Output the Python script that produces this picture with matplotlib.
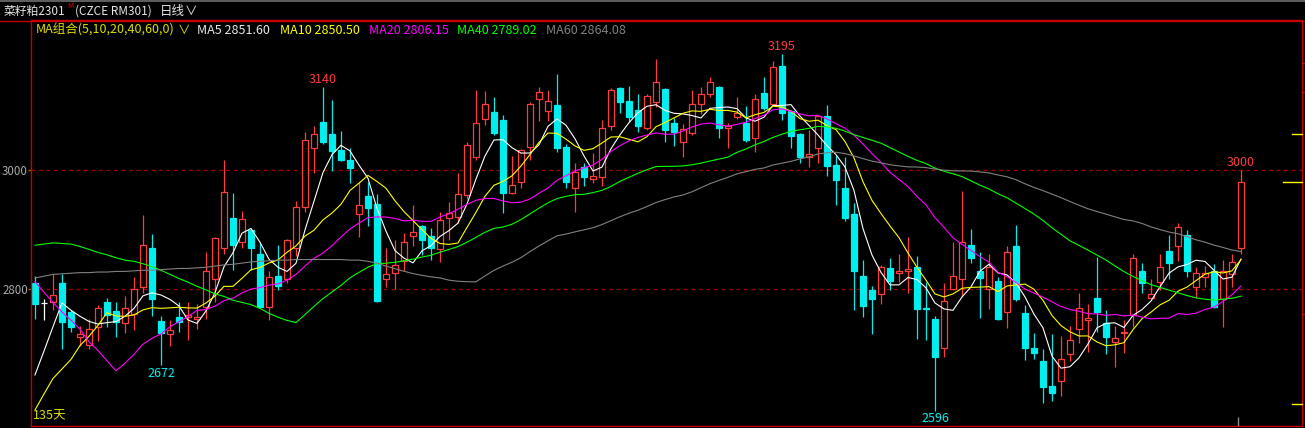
import matplotlib
matplotlib.use("Agg")
import matplotlib.pyplot as plt
from matplotlib.lines import Line2D
import numpy as np

plt.rcParams["font.family"] = ["Noto Sans CJK SC", "DejaVu Sans"]

W, H = 1305, 428

# daily bars of RM301 (135 sessions)
opens = [2810, 2777, 2779, 2810, 2761, 2719, 2706, 2736, 2778, 2763,
         2743, 2758, 2803, 2869, 2746, 2724, 2753, 2753, 2750, 2770,
         2817, 2869, 2920, 2880, 2900, 2859, 2770, 2822, 2818, 2869,
         2939, 3037, 3081, 3061, 3034, 3017, 2926, 2957, 2943, 2817,
         2827, 2848, 2890, 2906, 2890, 2868, 2919, 2922, 2958, 3022,
         3086, 3098, 3085, 2962, 2980, 3039, 3119, 3099, 3110, 3039,
         2970, 3005, 2985, 2989, 3075, 3138, 3116, 3101, 3071, 3115,
         3137, 3079, 3048, 3063, 3111, 3129, 3140, 3071, 3089, 3080,
         3055, 3130, 3111, 3175, 3100, 3061, 3023, 3037, 3091, 3009,
         2970, 2927, 2822, 2799, 2792, 2835, 2828, 2830, 2837, 2769,
         2750, 2701, 2800, 2817, 2874, 2831, 2800, 2814, 2762, 2873,
         2760, 2702, 2680, 2637, 2646, 2692, 2734, 2748, 2785, 2743,
         2712, 2727, 2756, 2831, 2785, 2812, 2864, 2872, 2891, 2804,
         2820, 2830, 2783, 2825, 2869]
highs = [2822, 2783, 2825, 2826, 2765, 2738, 2750, 2774, 2785, 2779,
         2788, 2820, 2925, 2893, 2755, 2748, 2778, 2778, 2775, 2862,
         2888, 3018, 2962, 2932, 2903, 2878, 2831, 2874, 2885, 2949,
         3065, 3074, 3140, 3118, 3066, 3037, 2981, 2981, 2960, 2869,
         2883, 2894, 2942, 2908, 2903, 2930, 2947, 2995, 3048, 3135,
         3133, 3123, 3093, 3024, 3036, 3115, 3140, 3135, 3162, 3045,
         3012, 3012, 3029, 3085, 3138, 3140, 3142, 3128, 3129, 3187,
         3139, 3088, 3078, 3135, 3140, 3156, 3141, 3079, 3123, 3108,
         3129, 3156, 3184, 3195, 3102, 3062, 3067, 3093, 3110, 3026,
         3022, 2945, 2849, 2806, 2840, 2852, 2860, 2888, 2856, 2813,
         2755, 2811, 2880, 2966, 2901, 2863, 2859, 2820, 2873, 2908,
         2774, 2726, 2699, 2724, 2722, 2738, 2793, 2775, 2854, 2766,
         2738, 2748, 2859, 2844, 2817, 2859, 2891, 2912, 2900, 2838,
         2839, 2843, 2850, 2859, 3000]
lows = [2750, 2748, 2765, 2700, 2729, 2704, 2700, 2713, 2736, 2719,
        2726, 2731, 2793, 2755, 2672, 2704, 2728, 2715, 2734, 2750,
        2779, 2860, 2832, 2870, 2832, 2768, 2749, 2798, 2811, 2856,
        2930, 2995, 3044, 2999, 3015, 2979, 2888, 2906, 2778, 2804,
        2800, 2831, 2873, 2858, 2849, 2846, 2883, 2911, 2952, 3017,
        3076, 3060, 2928, 2960, 2971, 3017, 3083, 3083, 3031, 2970,
        2930, 2973, 2979, 2974, 3067, 3097, 3082, 3065, 3068, 3107,
        3048, 3041, 3023, 3060, 3095, 3124, 3055, 3038, 3087, 3048,
        3031, 3101, 3109, 3085, 3038, 3013, 3006, 3012, 2990, 2942,
        2915, 2765, 2753, 2724, 2775, 2799, 2813, 2794, 2717, 2715,
        2596, 2686, 2798, 2788, 2845, 2752, 2767, 2748, 2735, 2780,
        2681, 2682, 2609, 2613, 2620, 2680, 2710, 2695, 2728, 2691,
        2669, 2693, 2736, 2794, 2784, 2799, 2817, 2848, 2820, 2785,
        2803, 2768, 2737, 2804, 2860]
closes = [2775, 2777, 2790, 2745, 2737, 2724, 2734, 2768, 2757, 2745,
          2769, 2800, 2874, 2783, 2726, 2732, 2745, 2756, 2754, 2830,
          2886, 2963, 2874, 2918, 2870, 2771, 2820, 2806, 2883, 2938,
          3051, 3061, 3048, 3033, 3017, 3004, 2942, 2937, 2781, 2825,
          2840, 2879, 2897, 2882, 2869, 2917, 2928, 2960, 3042, 3079,
          3111, 3063, 2962, 2975, 3034, 3111, 3132, 3117, 3038, 2981,
          2997, 2988, 2990, 3071, 3135, 3114, 3090, 3074, 3125, 3148,
          3067, 3065, 3069, 3111, 3128, 3148, 3071, 3074, 3097, 3051,
          3119, 3105, 3173, 3097, 3058, 3023, 3027, 3092, 3007, 2983,
          2919, 2830, 2772, 2784, 2837, 2814, 2830, 2834, 2767, 2767,
          2687, 2780, 2822, 2879, 2852, 2819, 2838, 2750, 2862, 2784,
          2702, 2693, 2635, 2625, 2682, 2714, 2768, 2751, 2761, 2720,
          2718, 2729, 2852, 2810, 2792, 2837, 2844, 2905, 2830, 2828,
          2827, 2770, 2831, 2846, 2980]

# moving averages as drawn on the chart
ma5 = [2656, 2696, 2737, 2777, 2764.8, 2754.6, 2746, 2741.6, 2744, 2745.6,
       2754.6, 2767.8, 2789, 2794.2, 2790.4, 2783, 2772, 2748.4, 2742.6, 2763.4,
       2794.2, 2837.8, 2861.4, 2894.2, 2902.2, 2879.2, 2850.6, 2837, 2830, 2843.6,
       2899.6, 2947.8, 2996.2, 3026.2, 3042, 3032.6, 3008.8, 2986.6, 2936.2, 2897.8,
       2865, 2852.4, 2844.4, 2864.6, 2873.4, 2888.8, 2898.6, 2911.2, 2943.2, 2985.2,
       3024, 3051, 3051.4, 3038, 3029, 3029, 3042.8, 3073.8, 3086.4, 3075.8,
       3053, 3024.2, 2998.8, 3005.4, 3036.2, 3059.6, 3080, 3096.8, 3107.6, 3110.2,
       3100.8, 3095.8, 3094.8, 3092, 3088, 3104.2, 3105.4, 3106.4, 3103.6, 3088.2,
       3082.4, 3089.2, 3109, 3109, 3110.4, 3091.2, 3075.6, 3059.4, 3041.4, 3026.4,
       3005.6, 2966.2, 2902.2, 2857.6, 2828.4, 2807.4, 2807.4, 2819.8, 2816.4, 2802.4,
       2777, 2767, 2764.6, 2787, 2804, 2830.4, 2842, 2827.6, 2824.2, 2810.6,
       2787.2, 2758.2, 2735.2, 2687.8, 2667.4, 2669.8, 2684.8, 2708, 2735.2, 2742.8,
       2743.6, 2735.8, 2756, 2765.8, 2780.2, 2804, 2827, 2837.6, 2841.6, 2848.8,
       2846.8, 2832, 2817.2, 2820.4, 2850.8]
ma10 = [2597, 2624, 2650, 2666, 2682, 2705.3, 2721, 2739.3, 2760.5, 2755.2,
        2754.6, 2756.9, 2765.3, 2769.1, 2768, 2768.8, 2769.9, 2768.7, 2768.4, 2776.9,
        2788.6, 2804.9, 2804.9, 2818.4, 2832.8, 2836.7, 2844.2, 2849.2, 2862.1, 2872.9,
        2889.4, 2899.2, 2916.6, 2928.1, 2942.8, 2966.1, 2978.3, 2991.4, 2981.2, 2969.9,
        2948.8, 2930.6, 2915.5, 2900.4, 2885.6, 2876.9, 2875.5, 2877.8, 2903.9, 2929.3,
        2956.4, 2974.8, 2981.3, 2990.6, 3007.1, 3026.5, 3046.9, 3062.6, 3062.2, 3052.4,
        3041, 3033.5, 3036.3, 3045.9, 3056, 3056.3, 3052.1, 3047.8, 3056.5, 3073.2,
        3080.2, 3087.9, 3095.8, 3099.8, 3099.1, 3102.5, 3100.6, 3100.6, 3097.8, 3088.1,
        3093.3, 3097.3, 3107.7, 3106.3, 3099.3, 3086.8, 3082.4, 3084.2, 3075.2, 3068.4,
        3048.4, 3020.9, 2980.8, 2949.5, 2927.4, 2906.5, 2886.8, 2861, 2837, 2815.4,
        2792.2, 2787.2, 2792.2, 2801.7, 2803.2, 2803.7, 2804.5, 2796.1, 2805.6, 2807.3,
        2808.8, 2800.1, 2781.4, 2756, 2739, 2728.5, 2721.5, 2721.6, 2711.5, 2705.1,
        2706.7, 2710.3, 2732, 2750.5, 2761.5, 2773.8, 2781.4, 2796.8, 2803.7, 2814.5,
        2825.4, 2829.5, 2827.4, 2831, 2849.8]
ma20 = [2813, 2795, 2778, 2762, 2748, 2733, 2712, 2697, 2680, 2663,
        2675.8, 2690.5, 2707.7, 2717.6, 2725, 2737.1, 2745.5, 2754, 2764.5, 2766.1,
        2771.6, 2780.9, 2785.1, 2793.8, 2800.4, 2802.8, 2807.1, 2809, 2815.3, 2824.9,
        2839, 2852.1, 2860.8, 2873.3, 2887.8, 2901.4, 2911.3, 2920.3, 2921.7, 2921.4,
        2919.1, 2914.9, 2916.1, 2914.3, 2914.2, 2921.5, 2926.9, 2934.6, 2942.6, 2949.6,
        2952.6, 2952.7, 2948.4, 2945.5, 2946.4, 2951.7, 2961.2, 2970.2, 2983.1, 2990.9,
        2998.7, 3004.2, 3008.8, 3018.3, 3031.6, 3041.4, 3049.5, 3055.2, 3059.4, 3062.8,
        3060.6, 3060.7, 3066.1, 3072.9, 3077.6, 3079.4, 3076.4, 3074.2, 3077.2, 3080.7,
        3086.8, 3092.6, 3101.8, 3103.1, 3099.2, 3094.7, 3091.5, 3092.4, 3086.5, 3078.3,
        3070.9, 3059.1, 3044.3, 3027.9, 3013.4, 2996.7, 2984.6, 2972.6, 2956.1, 2941.9,
        2920.3, 2904.1, 2886.5, 2875.6, 2865.3, 2855.1, 2845.7, 2828.6, 2821.3, 2811.4,
        2800.5, 2793.7, 2786.8, 2778.9, 2771.1, 2766.1, 2763, 2758.9, 2758.6, 2756.2,
        2757.8, 2755.2, 2756.7, 2753.3, 2750.3, 2751.2, 2751.5, 2759.2, 2757.6, 2759.8,
        2766.1, 2769.9, 2779.7, 2790.8, 2805.7]
ma40 = [2874, 2876, 2878, 2877, 2876, 2872, 2867, 2862, 2858, 2853,
        2849, 2847, 2843, 2838, 2832, 2825, 2818, 2812, 2805, 2799,
        2792.3, 2788, 2781.6, 2777.9, 2774.2, 2767.9, 2759.6, 2753, 2747.7, 2744,
        2757.4, 2771.3, 2784.3, 2795.5, 2806.4, 2819.3, 2828.4, 2837.2, 2843.1, 2843.8,
        2845.4, 2847.9, 2850.6, 2854.1, 2857.3, 2862.2, 2867, 2871.8, 2879, 2887.3,
        2895.8, 2902.4, 2904.6, 2909.4, 2917.1, 2926.6, 2936.3, 2945.3, 2952.4, 2956.2,
        2958.9, 2959.6, 2962.5, 2966.3, 2972.9, 2981.5, 2988.2, 2994.9, 3001, 3006.2,
        3006.6, 3006.7, 3007.3, 3009.2, 3012, 3015.6, 3018.8, 3022.2, 3030.2, 3035.8,
        3042.8, 3048.4, 3055.3, 3060.7, 3065.4, 3068.1, 3070.5, 3073.8, 3073, 3070.6,
        3065.8, 3059.9, 3055.2, 3050.4, 3045.5, 3038.1, 3030.5, 3023.4, 3016.7, 3011.3,
        3003.6, 2998.4, 2994.2, 2989.4, 2982.3, 2974.9, 2968.6, 2960.5, 2953.9, 2944.9,
        2935.7, 2926.4, 2915.6, 2903.4, 2892.3, 2881.4, 2873.8, 2865.8, 2857.4, 2849.1,
        2839.1, 2829.7, 2821.6, 2814.5, 2807.8, 2803.2, 2798.6, 2793.9, 2789.5, 2785.6,
        2783.3, 2781.8, 2783.3, 2784.9, 2788.4]
ma60 = [2819, 2822, 2825, 2826, 2827, 2828, 2828, 2829, 2829, 2830,
        2830, 2831, 2832, 2832, 2833, 2834, 2835, 2835, 2836, 2837,
        2839, 2841, 2842, 2844, 2846, 2847, 2848, 2849, 2849, 2850,
        2850, 2850, 2850, 2850, 2850, 2849, 2849, 2847, 2844, 2839,
        2834.6, 2830.3, 2826.4, 2823.4, 2820.9, 2819.1, 2815.3, 2813.5, 2812.7, 2812.5,
        2822.5, 2831.8, 2839, 2845.5, 2853.1, 2863.4, 2872.7, 2881.5, 2889.8, 2892.8,
        2896.5, 2900, 2903.4, 2908.8, 2915.4, 2921.9, 2927.8, 2932.9, 2939.1, 2945.8,
        2950.7, 2955.2, 2958.5, 2963.9, 2970.6, 2977.5, 2983, 2988.2, 2994, 2997.7,
        3001.6, 3003.9, 3008.9, 3011.9, 3015, 3019.2, 3022.6, 3027.4, 3029.5, 3030.3,
        3028.1, 3024.2, 3019.6, 3015.4, 3012.5, 3009.3, 3007.4, 3005.7, 3005.5, 3004.5,
        3002, 3000.3, 2999.1, 2999, 2998.7, 2997.1, 2995.6, 2992.1, 2989.1, 2984.2,
        2977.3, 2971.2, 2965.8, 2959.9, 2954.1, 2947.4, 2941.3, 2935.3, 2930.7, 2926.3,
        2921.7, 2917.3, 2915, 2910.7, 2904.9, 2900.4, 2896.2, 2893.4, 2888.5, 2883.2,
        2879.2, 2874.2, 2870.3, 2865.9, 2863.4]

ma_names = ["MA5", "MA10", "MA20", "MA40", "MA60"]
ma_last = ["2851.60", "2850.50", "2806.15", "2789.02", "2864.08"]
y_ticks = [2800, 3000]
high_marks = [32, 83, 134]   # bars whose high is labelled
low_marks = [14, 100]        # bars whose low is labelled
right_yellow = [3061, 2980, 2607]
right_red = [3180, 3132, 2759]

UP = "#ff3c3c"
DOWN = "#00eeee"
FRAME = "#c40000"
MA_COLORS = ["#ffffff", "#ffff00", "#ff00ff", "#00ff00", "#808080"]

fig = plt.figure(figsize=(W / 100, H / 100), dpi=100, facecolor="black")
ax = fig.add_axes([31 / W, 2 / H, 1271 / W, 406 / H])
ax.set_facecolor("black")
ax.set_xlim(-0.44, 140.78)
ax.set_ylim(2570.2, 3252.6)

o = np.array(opens, float)
hi = np.array(highs, float)
lo = np.array(lows, float)
c = np.array(closes, float)
idx = np.arange(len(c))
up = c > o
down = c < o
flat = c == o
top = np.maximum(o, c)
bot = np.minimum(o, c)

# price reference lines
for v in y_ticks:
    ax.axhline(v, color="#a00000", lw=0.9, ls=(0, (3, 3)), zorder=0)

# wicks (kept outside the bodies so hollow candles stay hollow)
for mask, col in ((up, UP), (down, DOWN), (flat, "white")):
    ax.vlines(idx[mask], top[mask], hi[mask], color=col, lw=0.9, zorder=1)
    ax.vlines(idx[mask], lo[mask], bot[mask], color=col, lw=0.9, zorder=1)

# bodies
ax.bar(idx[up], (c - o)[up], bottom=o[up], width=0.66, facecolor="black",
       edgecolor=UP, linewidth=0.9, zorder=2)
ax.bar(idx[down], (o - c)[down], bottom=c[down], width=0.68, facecolor=DOWN,
       edgecolor=DOWN, linewidth=0.9, zorder=2)
ax.hlines(c[flat], idx[flat] - 0.38, idx[flat] + 0.38, color="white", lw=0.9, zorder=2)

# moving averages
for series, col in zip([ma5, ma10, ma20, ma40, ma60], MA_COLORS):
    ax.plot(idx, series, color=col, lw=0.8, zorder=3)

# high / low labels
for i in high_marks:
    ax.annotate(str(highs[i]), (i, highs[i]), xytext=(0, 1), textcoords="offset points",
                ha="center", va="bottom", color=UP, fontsize=9)
for i in low_marks:
    ax.annotate(str(lows[i]), (i, lows[i]), xytext=(0, -1), textcoords="offset points",
                ha="center", va="top", color=DOWN, fontsize=9)

# marks on the right edge
xr = ax.get_xlim()[1]
for v in right_yellow:
    ln = 2.1 if v == closes[-1] else 1.1
    ax.plot([xr - ln, xr], [v, v], color="#ffff00", lw=1, zorder=4, clip_on=False)
for v in right_red:
    ax.plot([xr, xr + 0.35], [v, v], color=FRAME, lw=1, zorder=4, clip_on=False)
ax.vlines(idx[-1] - 0.3, 2570.2, 2585, color="#909090", lw=1, zorder=4)

# axes styling
for s in ax.spines.values():
    s.set_color(FRAME)
    s.set_linewidth(1.0)
ax.set_xticks([])
ax.set_yticks(y_ticks)
ax.set_yticklabels([str(v) for v in y_ticks], color="#a8a8a8", fontsize=8.3)
ax.tick_params(axis="y", length=2, width=1, color="#b05a00", pad=0.3)

# frame lines across the title bar
fig.add_artist(Line2D([0, 1], [1 - 0.6 / H] * 2, color="#707070", lw=1.2))
fig.add_artist(Line2D([0, 1], [1 - 20.5 / H] * 2, color=FRAME, lw=1.0))


def put(x, y, s, color, size=9):
    fig.text(x / W, 1 - y / H, s, color=color, fontsize=size, ha="left", va="center")


# title bar
put(4, 11, "菜籽粕2301", "#e6e6e6", 8.5)
put(67, 6, "M", "#e00000", 5.5)
put(75, 11, "(CZCE RM301)", "#e6e6e6", 8.5)
put(160, 11, "日线", "#e6e6e6")
put(185, 11, "∨", "#e6e6e6")

# MA legend
put(36, 30, "MA组合(5,10,20,40,60,0)", "#dcdc00")
put(178, 30, "∨", "#dcdc00")
for x0, name, val, col in zip([197, 280, 369, 457, 546], ma_names, ma_last, MA_COLORS):
    put(x0, 30, f"{name} {val}", col if col != "#ffffff" else "#e8e8e8")

put(33, 416, "135天", "#dcdc00")

fig.savefig("out.png", dpi=100, facecolor="black")
